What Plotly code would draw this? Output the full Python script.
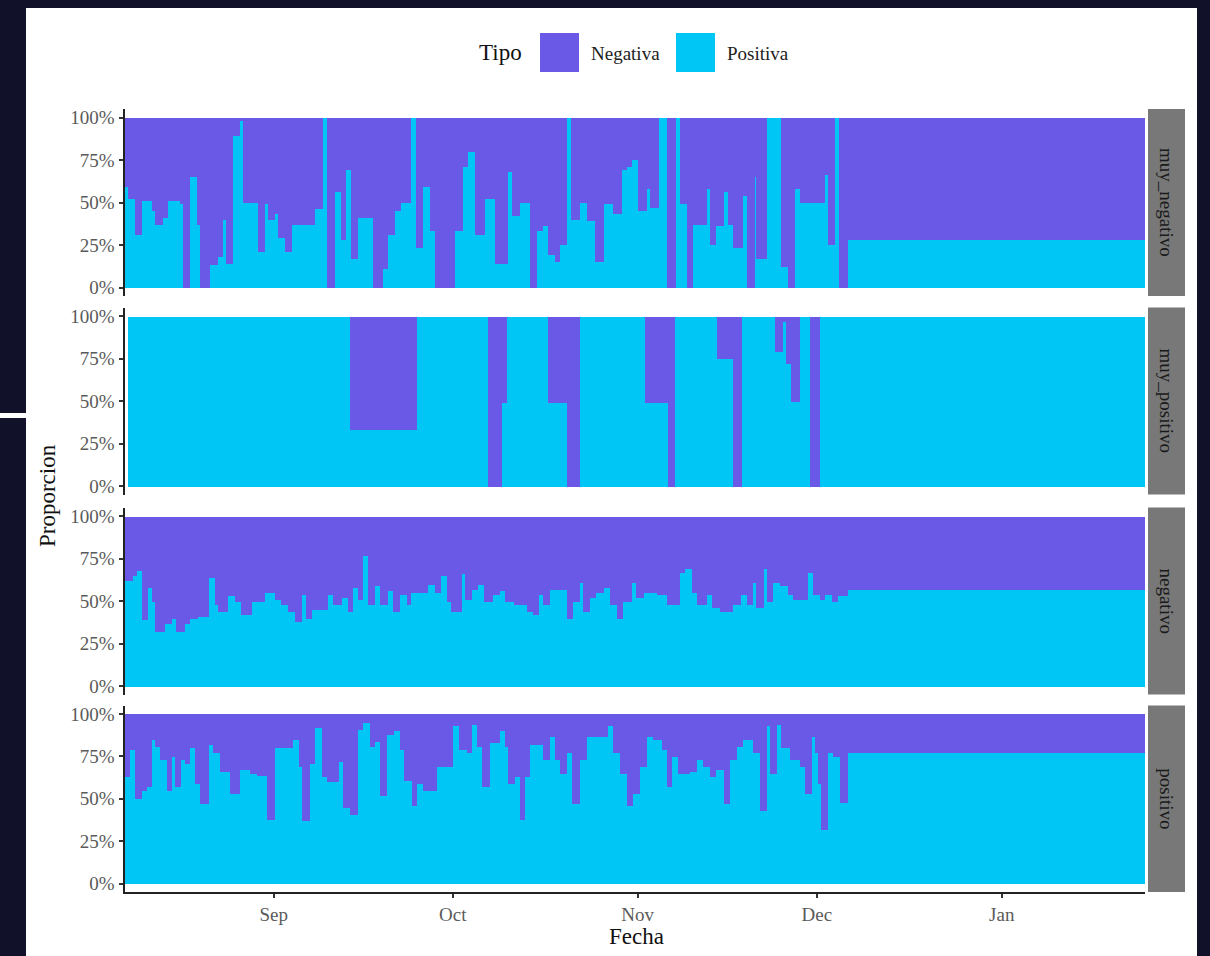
import pandas as pd
import plotly.graph_objects as go

# ---------------- data ----------------
start_date = pd.Timestamp("2019-08-07")
end_offset = 171  # days after start_date (last bar ends here)

panel_names = ["muy_negativo", "muy_positivo", "negativo", "positivo"]
legend_labels = ["Negativa", "Positiva"]

# segment start (days since start_date) and proportion of "Positiva"
starts_muy_neg = [0, 0.54, 1.66, 2.78, 4.45, 5.01, 6.41, 7.25, 9.2, 9.76,
                  10.87, 11.99, 12.55, 14.2, 15.6, 16.46, 17.0, 18.13, 19.25, 19.81,
                  22.32, 23.44, 24.0, 25.1, 25.7, 26.8, 27.9, 31.8, 33.2, 33.77,
                  35.16, 36.17, 37.1, 37.95, 39.07, 41.6, 43.3, 44.1, 45.2, 46.3,
                  48.0, 48.84, 49.95, 51.07, 51.9, 55.26, 56.66, 57.5, 58.6, 60.3,
                  62.0, 64.2, 64.8, 66.2, 67.9, 69.1, 70.1, 70.9, 72.1, 72.9,
                  74.1, 74.7, 76.3, 77.4, 78.8, 80.2, 81.8, 83.2, 84.1, 84.9,
                  86.0, 87.4, 88.0, 89.4, 90.8, 92.4, 93.0, 94.1, 95.2, 97.5,
                  98.0, 99.1, 100.3, 101.1, 101.9, 103.6, 104.2, 105.6, 105.8, 107.5,
                  110.0, 111.1, 112.3, 113.1, 117.3, 117.8, 119.0, 119.7, 121.2]
pos_muy_neg = [0.59, 0.52, 0.31, 0.51, 0.45, 0.37, 0.41, 0.51, 0.49, 0,
               0.65, 0.37, 0, 0.13, 0.18, 0.40, 0.14, 0.89, 0.98, 0.50,
               0.21, 0.49, 0.40, 0.43, 0.29, 0.21, 0.37, 0.46, 1.0, 0,
               0.56, 0.28, 0.69, 0.17, 0.41, 0, 0.11, 0.31, 0.45, 0.50,
               1.0, 0.23, 0.59, 0.33, 0, 0.33, 0.71, 0.80, 0.31, 0.52,
               0.14, 0.68, 0.42, 0.50, 0, 0.33, 0.36, 0.19, 0.15, 0.25,
               1.0, 0.40, 0.50, 0.39, 0.15, 0.49, 0.43, 0.69, 0.71, 0.75,
               0.45, 0.58, 0.47, 1.0, 0, 1.0, 0.49, 0, 0.37, 0.58,
               0.25, 0.36, 0.56, 0.37, 0.23, 0.54, 0, 0.65, 0.17, 1.0,
               0.12, 0, 0.58, 0.50, 0.66, 0.25, 1.0, 0, 0.28]

starts_muy_pos = [0.5, 37.7, 49.0, 60.8, 63.2, 64.0, 70.9, 74.1, 76.2, 87.1, 91.0,
                  92.2, 99.2, 101.9, 103.4, 108.9, 110.2, 110.8, 111.6, 113.1, 114.8, 116.4]
pos_muy_pos = [1.0, 0.33, 1.0, 0, 0.49, 1.0, 0.49, 0, 1.0, 0.49, 0,
               1.0, 0.75, 0, 1.0, 0.79, 0.97, 0.72, 0.50, 1.0, 0, 1.0]

starts_neg = [0, 1.4, 1.94, 2.78, 3.9, 4.45, 5.0, 6.7, 7.8, 8.6,
              10.0, 10.9, 12.3, 14.0, 15.1, 15.6, 17.3, 18.4, 19.5, 21.2,
              23.4, 25.1, 26.2, 27.3, 28.5, 29.6, 30.4, 31.3, 34.0, 34.9,
              36.3, 37.4, 38.2, 39.1, 39.9, 40.7, 41.9, 42.7, 44.1, 44.9,
              46.0, 47.2, 48.0, 50.8, 51.9, 53.0, 53.9, 54.7, 56.4, 56.9,
              58.1, 59.2, 60.1, 61.7, 62.9, 63.7, 65.1, 67.3, 68.4, 69.3,
              70.1, 71.2, 74.0, 75.1, 76.3, 76.8, 77.9, 79.0, 80.2, 81.3,
              82.4, 83.5, 84.9, 85.7, 86.9, 89.1, 90.8, 93.0, 93.8, 95.0,
              95.8, 97.5, 98.3, 99.7, 101.9, 103.3, 104.2, 105.3, 105.8, 107.0,
              107.5, 108.6, 109.8, 111.1, 112.0, 114.5, 115.3, 116.5, 117.3, 118.4,
              119.5, 121.2]
pos_neg = [0.62, 0.65, 0.68, 0.39, 0.58, 0.50, 0.32, 0.37, 0.40, 0.32,
           0.37, 0.40, 0.41, 0.64, 0.48, 0.44, 0.53, 0.50, 0.42, 0.50,
           0.55, 0.51, 0.48, 0.44, 0.38, 0.54, 0.40, 0.45, 0.54, 0.48,
           0.52, 0.44, 0.58, 0.51, 0.77, 0.48, 0.59, 0.48, 0.56, 0.44,
           0.54, 0.48, 0.55, 0.60, 0.55, 0.65, 0.50, 0.44, 0.66, 0.51,
           0.57, 0.60, 0.50, 0.54, 0.56, 0.50, 0.48, 0.44, 0.42, 0.54,
           0.48, 0.57, 0.40, 0.50, 0.61, 0.44, 0.52, 0.55, 0.58, 0.48,
           0.40, 0.50, 0.61, 0.52, 0.55, 0.54, 0.48, 0.67, 0.69, 0.55,
           0.48, 0.54, 0.46, 0.44, 0.48, 0.54, 0.48, 0.61, 0.46, 0.69,
           0.50, 0.61, 0.59, 0.54, 0.51, 0.67, 0.54, 0.51, 0.54, 0.50,
           0.53, 0.57]

starts_pos = [0, 0.77, 1.7, 2.8, 3.7, 4.5, 5.1, 5.9, 7.0, 7.9,
              8.4, 9.3, 10.1, 10.9, 11.8, 12.6, 14.0, 14.8, 16.0, 17.6,
              19.3, 21.0, 22.1, 23.8, 25.2, 28.2, 29.1, 29.6, 31.0, 31.9,
              33.0, 33.8, 35.8, 36.6, 37.7, 39.1, 39.96, 41.1, 41.9, 42.8,
              43.9, 45.0, 46.1, 46.7, 48.1, 48.9, 50.0, 52.2, 55.0, 55.9,
              57.3, 58.1, 58.9, 59.8, 61.2, 62.9, 63.7, 64.2, 65.4, 66.2,
              67.0, 67.9, 70.1, 71.2, 72.1, 72.9, 74.0, 74.9, 76.3, 77.4,
              81.0, 81.8, 83.0, 84.1, 85.2, 86.3, 87.4, 88.5, 89.9, 90.8,
              91.6, 92.7, 94.7, 95.8, 96.9, 98.0, 99.1, 100.3, 101.4, 102.5,
              103.6, 105.3, 106.4, 107.5, 108.1, 109.2, 110.0, 111.4, 113.1, 113.9,
              115.1, 115.6, 116.2, 116.7, 117.8, 118.7, 119.8, 121.2]
pos_pos = [0.63, 0.79, 0.50, 0.55, 0.57, 0.85, 0.81, 0.73, 0.55, 0.75,
           0.57, 0.73, 0.71, 0.80, 0.59, 0.47, 0.82, 0.77, 0.66, 0.53,
           0.67, 0.65, 0.64, 0.38, 0.80, 0.85, 0.69, 0.37, 0.71, 0.92,
           0.63, 0.60, 0.72, 0.45, 0.41, 0.91, 0.95, 0.81, 0.84, 0.52,
           0.88, 0.90, 0.79, 0.61, 0.46, 0.59, 0.55, 0.69, 0.93, 0.79,
           0.77, 0.94, 0.81, 0.57, 0.83, 0.90, 0.81, 0.59, 0.63, 0.38,
           0.63, 0.82, 0.73, 0.87, 0.73, 0.65, 0.77, 0.47, 0.73, 0.87,
           0.93, 0.77, 0.65, 0.46, 0.53, 0.69, 0.87, 0.85, 0.79, 0.57,
           0.75, 0.65, 0.66, 0.73, 0.69, 0.63, 0.67, 0.47, 0.73, 0.81,
           0.85, 0.77, 0.43, 0.93, 0.65, 0.94, 0.80, 0.73, 0.69, 0.53,
           0.87, 0.77, 0.59, 0.32, 0.77, 0.75, 0.48, 0.77]

y_tick_vals = [0, 0.25, 0.5, 0.75, 1.0]
y_tick_text = ["0%", "25%", "50%", "75%", "100%"]
month_ticks = ["2019-09-01", "2019-10-01", "2019-11-01", "2019-12-01", "2020-01-01"]
month_labels = ["Sep", "Oct", "Nov", "Dec", "Jan"]

# ---------------- style ----------------
W, H = 1210, 956
NEG_COLOR = "#6a58e6"
POS_COLOR = "#00c6f5"
BG_DARK = "#12112a"
FONT = "Liberation Serif"
TICK_COLOR = "#5a5a5a"

px_x = lambda p: p / W
px_y = lambda p: 1 - p / H

panel_left, panel_right = 124.5, 1145
panel_tb = [(109, 296), (307.5, 494.5), (507.5, 694.5), (705.5, 892)]

series = [(starts_muy_neg, pos_muy_neg), (starts_muy_pos, pos_muy_pos),
          (starts_neg, pos_neg), (starts_pos, pos_pos)]

fig = go.Figure()
x_range = [start_date, start_date + pd.Timedelta(days=end_offset)]

for k, (starts, pos) in enumerate(series):
    sfx = "" if k == 0 else str(k + 1)
    ends = list(starts[1:]) + [end_offset]
    x0 = start_date + pd.to_timedelta(starts, unit="D")
    widths = [(e - s) * 86400000 for s, e in zip(starts, ends)]
    neg = [1 - p for p in pos]
    fig.add_trace(go.Bar(x=x0, y=pos, width=widths, offset=0, name=legend_labels[1],
                         marker=dict(color=POS_COLOR, line=dict(width=0)),
                         xaxis="x" + sfx, yaxis="y" + sfx, showlegend=False))
    fig.add_trace(go.Bar(x=x0, y=neg, width=widths, offset=0, name=legend_labels[0],
                         marker=dict(color=NEG_COLOR, line=dict(width=0)),
                         xaxis="x" + sfx, yaxis="y" + sfx, showlegend=False))

    top, bot = panel_tb[k]
    last = k == len(series) - 1
    fig.update_layout(**{
        "xaxis" + sfx: dict(domain=[px_x(panel_left), px_x(panel_right)], anchor="y" + sfx,
                            type="date", range=x_range, showgrid=False, zeroline=False,
                            showline=last, linecolor="#222", linewidth=2,
                            ticks="outside" if last else "", ticklen=4, tickwidth=1.5,
                            tickcolor="#333", tickvals=month_ticks if last else [],
                            ticktext=month_labels if last else [], showticklabels=last,
                            tickfont=dict(family=FONT, size=19, color=TICK_COLOR),
                            ticklabelstandoff=0, automargin=False),
        "yaxis" + sfx: dict(domain=[px_y(bot), px_y(top)], anchor="x" + sfx,
                            range=[-0.05, 1.05], showgrid=False, zeroline=False,
                            showline=True, linecolor="#222", linewidth=2,
                            ticks="outside", ticklen=4, tickwidth=1.5, tickcolor="#333",
                            tickvals=y_tick_vals, ticktext=y_tick_text,
                            tickfont=dict(family=FONT, size=19, color=TICK_COLOR),
                            automargin=False),
    })

shapes = []
annotations = []
# white card behind chart
shapes.append(dict(type="rect", xref="paper", yref="paper", layer="below",
                   x0=px_x(26), x1=px_x(1197), y0=0, y1=px_y(8),
                   fillcolor="white", line=dict(width=0)))
shapes.append(dict(type="rect", xref="paper", yref="paper", layer="below",
                   x0=0, x1=px_x(26), y0=px_y(418), y1=px_y(413),
                   fillcolor="white", line=dict(width=0)))

# facet strips
for k, name in enumerate(panel_names):
    top, bot = panel_tb[k]
    shapes.append(dict(type="rect", xref="paper", yref="paper",
                       x0=px_x(1148), x1=px_x(1185), y0=px_y(bot), y1=px_y(top),
                       fillcolor="#787878", line=dict(width=0)))
    annotations.append(dict(text=name, xref="paper", yref="paper", showarrow=False,
                            x=px_x(1166.5), y=px_y((top + bot) / 2), textangle=90,
                            xanchor="center", yanchor="middle",
                            font=dict(family=FONT, size=19, color="#1a1a1a")))

# legend (drawn manually with large keys)
shapes.append(dict(type="rect", xref="paper", yref="paper", x0=px_x(540), x1=px_x(579),
                   y0=px_y(72), y1=px_y(33), fillcolor=NEG_COLOR, line=dict(width=0)))
shapes.append(dict(type="rect", xref="paper", yref="paper", x0=px_x(676), x1=px_x(715),
                   y0=px_y(72), y1=px_y(33), fillcolor=POS_COLOR, line=dict(width=0)))
annotations.append(dict(text="Tipo", xref="paper", yref="paper", showarrow=False,
                        x=px_x(477), y=px_y(53), xanchor="left", yanchor="middle",
                        font=dict(family=FONT, size=23, color="#111")))
annotations.append(dict(text=legend_labels[0], xref="paper", yref="paper", showarrow=False,
                        x=px_x(589), y=px_y(54), xanchor="left", yanchor="middle",
                        font=dict(family=FONT, size=19, color="#222")))
annotations.append(dict(text=legend_labels[1], xref="paper", yref="paper", showarrow=False,
                        x=px_x(725), y=px_y(54), xanchor="left", yanchor="middle",
                        font=dict(family=FONT, size=19, color="#222")))

# axis titles
annotations.append(dict(text="Proporcion", xref="paper", yref="paper", showarrow=False,
                        x=px_x(47), y=px_y(496), textangle=-90, xanchor="center",
                        yanchor="middle", font=dict(family=FONT, size=23, color="#111")))
annotations.append(dict(text="Fecha", xref="paper", yref="paper", showarrow=False,
                        x=px_x(636), y=px_y(936), xanchor="center", yanchor="middle",
                        font=dict(family=FONT, size=23, color="#111")))

fig.update_layout(width=W, height=H, template="none", barmode="stack", bargap=0,
                  paper_bgcolor=BG_DARK, plot_bgcolor="rgba(0,0,0,0)",
                  margin=dict(l=0, r=0, t=0, b=0), showlegend=False,
                  shapes=shapes, annotations=annotations)

fig.write_html("out.html",
               config={"displayModeBar": False},
               post_script="document.body.style.margin='0';"
                           "document.body.style.overflow='hidden';"
                           "document.body.style.background='" + BG_DARK + "';")
